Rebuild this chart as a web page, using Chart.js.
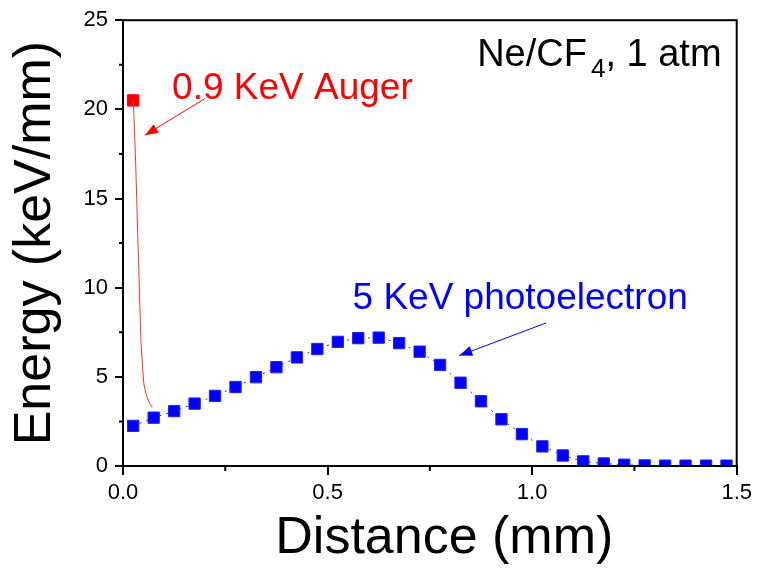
<!DOCTYPE html>
<html>
<head>
<meta charset="utf-8">
<script src="https://cdn.jsdelivr.net/npm/chart.js@4.4.0/dist/chart.umd.min.js"></script>
<style>
  html, body { margin: 0; padding: 0; background: #fff; }
</style>
</head>
<body>
<canvas id="chart1" width="757" height="572"></canvas>
<script>
// 5 keV photoelectron
const photoX = [0.025, 0.075, 0.125, 0.175, 0.225, 0.275, 0.325, 0.375, 0.425, 0.475,
                0.525, 0.575, 0.625, 0.675, 0.725, 0.775, 0.825, 0.875, 0.925, 0.975,
                1.025, 1.075, 1.125, 1.175, 1.225, 1.275, 1.325, 1.375, 1.425, 1.475];
const photoY = [2.25, 2.71, 3.08, 3.5, 3.93, 4.43, 4.98, 5.54, 6.09, 6.56,
                6.96, 7.17, 7.2, 6.89, 6.41, 5.67, 4.67, 3.63, 2.62, 1.79,
                1.1, 0.59, 0.26, 0.14, 0.07, 0.03, 0.02, 0.02, 0.02, 0.02];
// 0.9 keV Auger: one point plus its fall-off curve
const augerX = [0.025];
const augerY = [20.5];
const augerCurveX = [0.025, 0.027, 0.031, 0.036, 0.041, 0.044, 0.048, 0.051, 0.058, 0.065, 0.072];
const augerCurveY = [20.5, 19.5, 17.0, 13.0, 9.2, 6.9, 5.5, 4.6, 3.9, 3.5, 3.3];
const xTicks = [0, 0.5, 1.0, 1.5];
const xMinor = [0.25, 0.75, 1.25];
const yTicks = [0, 5, 10, 15, 20, 25];
const yMinor = [2.5, 7.5, 12.5, 17.5, 22.5];

const pts = (xs, ys) => xs.map((x, i) => ({x: x, y: ys[i]}));
const FONT = "'Liberation Sans', Arial, sans-serif";

function arrow(ctx, x1, y1, x2, y2, color) {
  ctx.strokeStyle = color;
  ctx.fillStyle = color;
  ctx.lineWidth = 1;
  ctx.beginPath();
  ctx.moveTo(x1, y1);
  ctx.lineTo(x2, y2);
  ctx.stroke();
  const a = Math.atan2(y2 - y1, x2 - x1), len = 13, w = 5;
  const bx = x2 - len * Math.cos(a), by = y2 - len * Math.sin(a);
  ctx.beginPath();
  ctx.moveTo(x2, y2);
  ctx.lineTo(bx + w * Math.sin(a), by - w * Math.cos(a));
  ctx.lineTo(bx - w * Math.sin(a), by + w * Math.cos(a));
  ctx.closePath();
  ctx.fill();
}

const notes = {
  id: 'notes',
  afterDraw(chart) {
    const {ctx, chartArea: a, scales: {x, y}} = chart;
    ctx.save();
    ctx.strokeStyle = '#000';
    ctx.lineWidth = 2;
    ctx.strokeRect(a.left, a.top, a.right - a.left, a.bottom - a.top);
    ctx.beginPath();
    xMinor.forEach(v => {
      const px = x.getPixelForValue(v);
      ctx.moveTo(px, a.bottom);
      ctx.lineTo(px, a.bottom + 5);
    });
    yMinor.forEach(v => {
      const py = y.getPixelForValue(v);
      ctx.moveTo(a.left, py);
      ctx.lineTo(a.left - 4, py);
    });
    ctx.stroke();

    ctx.textBaseline = 'alphabetic';
    ctx.textAlign = 'left';
    // red note
    ctx.fillStyle = '#ff0000';
    ctx.font = '37px ' + FONT;
    ctx.fillText('0.9 KeV Auger', x.getPixelForValue(0.12), y.getPixelForValue(20.6));
    arrow(ctx, x.getPixelForValue(0.2), y.getPixelForValue(20.6),
      x.getPixelForValue(0.054), y.getPixelForValue(18.55), '#ff0000');
    // blue note
    ctx.fillStyle = '#0000ff';
    ctx.fillText('5 KeV photoelectron', x.getPixelForValue(0.561), y.getPixelForValue(8.8));
    arrow(ctx, x.getPixelForValue(1.034), y.getPixelForValue(8.02),
      x.getPixelForValue(0.822), y.getPixelForValue(6.19), '#0000ff');
    // gas label with subscript
    ctx.fillStyle = '#000';
    ctx.font = '38px ' + FONT;
    const p1 = 'Ne/CF', p3 = ', 1 atm';
    const w1 = ctx.measureText(p1).width, w3 = ctx.measureText(p3).width;
    ctx.font = '26px ' + FONT;
    const w2 = ctx.measureText('4').width;
    const right = x.getPixelForValue(1.463), base = y.getPixelForValue(22.45);
    let left = right - w1 - w2 - w3 - 4;
    ctx.font = '38px ' + FONT;
    ctx.fillText(p1, left, base);
    ctx.font = '26px ' + FONT;
    ctx.fillText('4', left + w1 + 4, base + 11);
    ctx.font = '38px ' + FONT;
    ctx.fillText(p3, left + w1 + 4 + w2, base);
    ctx.restore();
  }
};

const ctx1 = document.getElementById('chart1');

new Chart(ctx1, {
  type: 'scatter',
  data: {
    datasets: [{
      label: 'Auger curve',
      data: pts(augerCurveX, augerCurveY),
      showLine: true,
      borderColor: '#ff3030',
      borderWidth: 1,
      pointRadius: 0,
      clip: 0
    }, {
      label: '0.9 KeV Auger',
      data: pts(augerX, augerY),
      pointStyle: 'rect',
      pointRadius: 8,
      pointBorderWidth: 1,
      backgroundColor: '#ff0000',
      borderColor: '#ff0000',
      clip: 0
    }, {
      label: '5 KeV photoelectron',
      data: pts(photoX, photoY),
      showLine: true,
      borderColor: '#444',
      borderWidth: 1,
      borderDash: [2, 5],
      pointStyle: 'rect',
      pointRadius: 8,
      pointBorderWidth: 1,
      pointBackgroundColor: '#0000ff',
      pointBorderColor: '#2020ff',
      clip: 0
    }]
  },
  options: {
    responsive: false,
    animation: false,
    layout: { padding: { left: 0, right: 19, top: 16, bottom: 0 } },
    plugins: {
      legend: { display: false },
      tooltip: { enabled: false }
    },
    scales: {
      x: {
        type: 'linear',
        min: 0,
        max: 1.5,
        afterBuildTicks: s => { s.ticks = xTicks.map(v => ({value: v})); },
        afterFit: s => { s.height = 106; },
        ticks: {
          color: '#000',
          padding: 5,
          font: { family: FONT, size: 22 },
          callback: v => v.toFixed(1)
        },
        grid: { drawOnChartArea: false, tickLength: 9, color: '#000', lineWidth: 2 },
        border: { color: '#000', width: 2 },
        title: {
          display: true,
          text: '  Distance (mm)',
          color: '#000',
          font: { family: FONT, size: 52 },
          padding: { top: 0, bottom: 2 }
        }
      },
      y: {
        type: 'linear',
        min: 0,
        max: 25,
        afterBuildTicks: s => { s.ticks = yTicks.map(v => ({value: v})); },
        afterFit: s => { s.width = 123; },
        ticks: {
          color: '#000',
          padding: 7,
          font: { family: FONT, size: 22 },
          callback: v => String(v)
        },
        grid: { drawOnChartArea: false, tickLength: 8, color: '#000', lineWidth: 2 },
        border: { color: '#000', width: 2 },
        title: {
          display: true,
          text: 'Energy (keV/mm)',
          color: '#000',
          font: { family: FONT, size: 52 },
          padding: { top: 4, bottom: 0 }
        }
      }
    }
  },
  plugins: [notes]
});
</script>
</body>
</html>
